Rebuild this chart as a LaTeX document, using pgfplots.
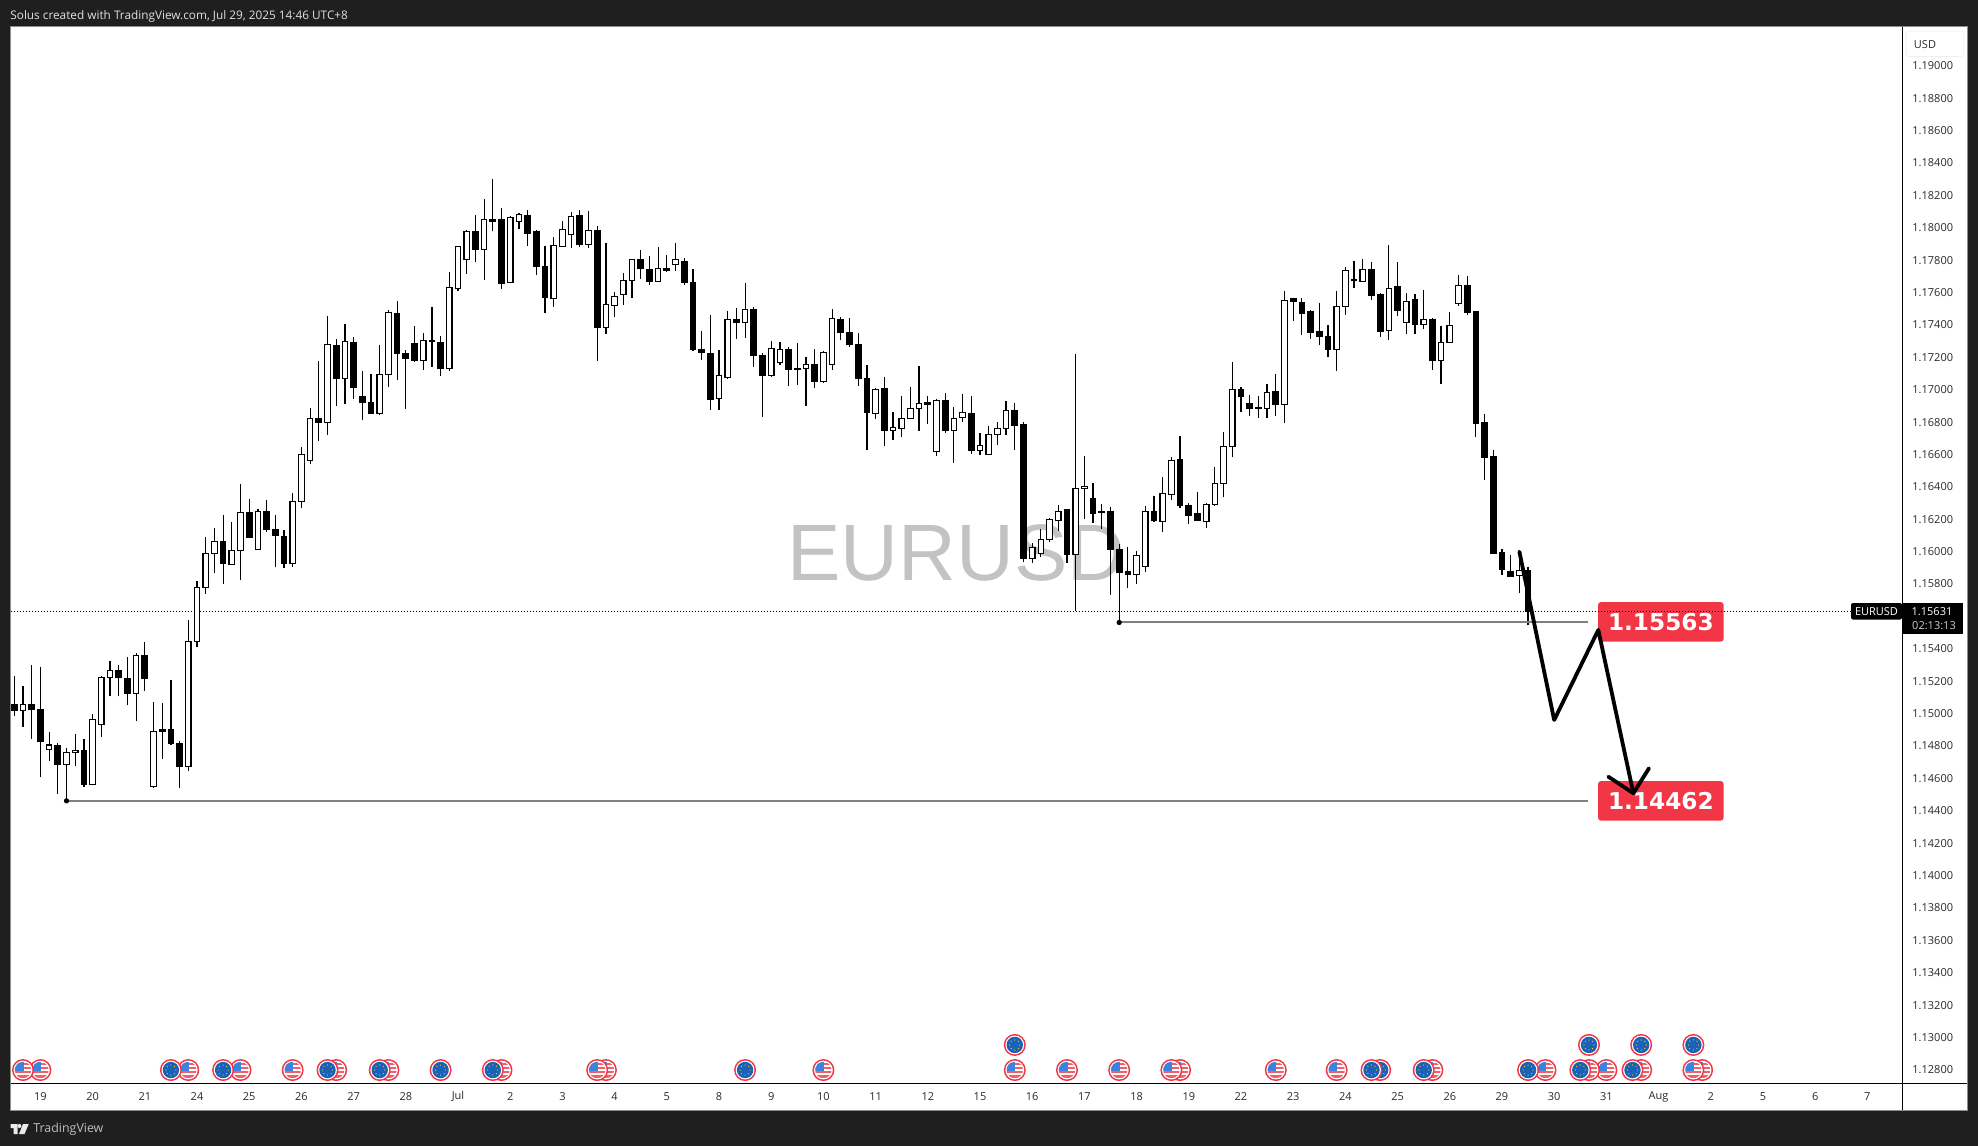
\documentclass[border=0pt]{standalone}
\usepackage{fontspec}
\setmainfont{Open Sans}
\newfontfamily\wmfont{Liberation Sans}
\newfontfamily\tagfont{DejaVu Sans}
\usepackage{pgfplots}
\usepackage{pgfplotstable}
\pgfplotsset{compat=1.18}

\definecolor{frame}{HTML}{1F1F1F}
\definecolor{edge}{HTML}{8C8C8C}
\definecolor{level}{HTML}{808080}
\definecolor{tagred}{HTML}{F23645}
\definecolor{ticktext}{HTML}{2A2A2A}
\definecolor{marker}{HTML}{C3C3C3}
\definecolor{eublue}{HTML}{1A62B8}
\definecolor{usblue}{HTML}{3C83E0}
\definecolor{usred}{HTML}{F0606A}
\definecolor{eustar}{HTML}{F2D21E}

% 4h candles: index, high, body top, body bottom, low
\pgfplotstableread{
i hi top bot lo
0 1.15233 1.15059 1.15019 1.14987
2 1.15300 1.15059 1.15027 1.14845
3 1.15289 1.15027 1.14829 1.14612
5 1.14818 1.14804 1.14687 1.14507
8 1.14845 1.14772 1.14564 1.14545
12 1.15300 1.15268 1.15222 1.15107
13 1.15351 1.15217 1.15126 1.15053
15 1.15444 1.15361 1.15217 1.15142
18 1.15209 1.14904 1.14815 1.14807
19 1.14831 1.14818 1.14673 1.14539
24 1.16226 1.16063 1.15926 1.15803
27 1.16325 1.16242 1.16087 1.16087
29 1.16320 1.16250 1.16138 1.16119
30 1.16226 1.16138 1.16100 1.15905
31 1.16132 1.16095 1.15926 1.15902
35 1.17176 1.16823 1.16796 1.16681
37 1.17313 1.17273 1.17069 1.16901
39 1.17324 1.17291 1.17013 1.16943
40 1.17115 1.16959 1.16922 1.16810
41 1.17096 1.16922 1.16852 1.16852
44 1.17546 1.17471 1.17224 1.17061
45 1.17243 1.17224 1.17192 1.16882
46 1.17393 1.17286 1.17179 1.17168
48 1.17511 1.17305 1.17297 1.17141
49 1.17329 1.17291 1.17131 1.17085
53 1.18078 1.17977 1.17864 1.17789
55 1.18298 1.18052 1.18038 1.17977
56 1.18120 1.18048 1.17655 1.17624
59 1.18108 1.18077 1.17964 1.17889
60 1.17986 1.17974 1.17760 1.17708
61 1.17887 1.17762 1.17568 1.17476
65 1.18108 1.18077 1.17896 1.17883
67 1.18009 1.17984 1.17383 1.17180
72 1.17863 1.17805 1.17747 1.17684
73 1.17826 1.17743 1.17667 1.17649
75 1.17832 1.17750 1.17735 1.17729
77 1.17811 1.17793 1.17661 1.17649
78 1.17743 1.17663 1.17247 1.17241
79 1.17363 1.17249 1.17229 1.17186
80 1.17461 1.17225 1.16939 1.16877
83 1.17505 1.17435 1.17414 1.17315
85 1.17509 1.17496 1.17210 1.17142
86 1.17225 1.17212 1.17087 1.16834
89 1.17262 1.17249 1.17124 1.17025
90 1.17289 1.17132 1.17124 1.17031
92 1.17252 1.17157 1.17050 1.17013
95 1.17447 1.17435 1.17352 1.17309
96 1.17443 1.17354 1.17278 1.17266
97 1.17350 1.17280 1.17068 1.17025
98 1.17153 1.17070 1.16859 1.16630
100 1.17079 1.17009 1.16747 1.16655
105 1.16959 1.16922 1.16912 1.16789
107 1.16980 1.16935 1.16747 1.16735
110 1.16959 1.16854 1.16624 1.16605
115 1.16918 1.16869 1.16778 1.16628
116 1.16799 1.16783 1.15957 1.15937
121 1.16264 1.16258 1.15982 1.15931
124 1.16422 1.16330 1.16235 1.16180
125 1.16293 1.16245 1.16241 1.16141
126 1.16274 1.16245 1.16013 1.15733
127 1.16046 1.16015 1.15871 1.15563
128 1.16029 1.15875 1.15859 1.15778
131 1.16344 1.16245 1.16192 1.16184
134 1.16715 1.16566 1.16285 1.16272
135 1.16299 1.16287 1.16223 1.16173
136 1.16369 1.16237 1.16192 1.16192
141 1.17015 1.17003 1.16957 1.16863
142 1.16968 1.16912 1.16883 1.16838
143 1.16962 1.16887 1.16883 1.16826
145 1.17097 1.16990 1.16908 1.16840
147 1.17560 1.17560 1.17544 1.17425
148 1.17566 1.17536 1.17470 1.17338
149 1.17492 1.17480 1.17352 1.17313
150 1.17536 1.17357 1.17328 1.17276
151 1.17398 1.17326 1.17248 1.17202
156 1.17789 1.17743 1.17581 1.17554
157 1.17595 1.17585 1.17359 1.17326
159 1.17789 1.17634 1.17488 1.17455
161 1.17591 1.17554 1.17402 1.17344
163 1.17441 1.17435 1.17180 1.17122
167 1.17702 1.17645 1.17476 1.17462
168 1.17480 1.17480 1.16791 1.16708
169 1.16850 1.16795 1.16581 1.16445
170 1.16628 1.16585 1.15988 1.15988
171 1.16015 1.15992 1.15889 1.15857
172 1.15980 1.15875 1.15846 1.15846
174 1.15906 1.15885 1.15632 1.15550
}\downcandles

\pgfplotstableread{
i hi top bot lo
1 1.15171 1.15056 1.15021 1.14920
4 1.14887 1.14807 1.14780 1.14708
6 1.14791 1.14762 1.14687 1.14462
7 1.14874 1.14772 1.14762 1.14679
9 1.14995 1.14965 1.14564 1.14558
10 1.15235 1.15225 1.14933 1.14855
11 1.15326 1.15268 1.15225 1.15112
14 1.15372 1.15361 1.15126 1.14957
16 1.15072 1.14890 1.14550 1.14539
17 1.15067 1.14904 1.14893 1.14721
20 1.15578 1.15447 1.14676 1.14649
21 1.15819 1.15779 1.15447 1.15409
22 1.16092 1.15990 1.15779 1.15741
23 1.16146 1.16063 1.15990 1.15870
25 1.16183 1.16009 1.15921 1.15921
26 1.16419 1.16242 1.16009 1.15827
28 1.16266 1.16250 1.16014 1.16014
32 1.16360 1.16312 1.15926 1.15907
33 1.16649 1.16601 1.16312 1.16269
34 1.16890 1.16823 1.16563 1.16539
36 1.17455 1.17281 1.16799 1.16721
38 1.17404 1.17299 1.17069 1.16909
42 1.17275 1.17093 1.16852 1.16842
43 1.17495 1.17476 1.17093 1.17018
47 1.17350 1.17305 1.17182 1.17123
50 1.17728 1.17631 1.17131 1.17117
51 1.17886 1.17886 1.17623 1.17610
52 1.17985 1.17977 1.17803 1.17714
54 1.18177 1.18052 1.17864 1.17680
57 1.18071 1.18064 1.17663 1.17663
58 1.18089 1.18083 1.18040 1.17994
62 1.17941 1.17889 1.17564 1.17513
63 1.18042 1.17990 1.17885 1.17885
64 1.18097 1.18071 1.17959 1.17877
66 1.18103 1.17984 1.17896 1.17877
68 1.17906 1.17527 1.17385 1.17346
69 1.17603 1.17577 1.17521 1.17451
70 1.17721 1.17675 1.17589 1.17525
71 1.17805 1.17805 1.17675 1.17568
74 1.17881 1.17750 1.17669 1.17669
76 1.17906 1.17805 1.17774 1.17735
81 1.17245 1.17089 1.16947 1.16877
82 1.17486 1.17435 1.17075 1.17068
84 1.17659 1.17496 1.17416 1.17322
87 1.17301 1.17256 1.17087 1.17081
88 1.17295 1.17249 1.17169 1.17155
91 1.17202 1.17157 1.17132 1.16902
93 1.17237 1.17231 1.17052 1.17044
94 1.17498 1.17441 1.17157 1.17124
99 1.17009 1.17003 1.16854 1.16821
101 1.16863 1.16768 1.16749 1.16692
102 1.16959 1.16824 1.16762 1.16710
103 1.17017 1.16885 1.16824 1.16824
104 1.17147 1.16914 1.16885 1.16747
106 1.16941 1.16935 1.16620 1.16593
108 1.16891 1.16824 1.16749 1.16550
109 1.16974 1.16859 1.16830 1.16803
111 1.16731 1.16657 1.16624 1.16597
112 1.16778 1.16725 1.16601 1.16601
113 1.16801 1.16762 1.16725 1.16659
114 1.16931 1.16873 1.16762 1.16721
117 1.16052 1.16027 1.15959 1.15931
118 1.16138 1.16077 1.15990 1.15968
119 1.16206 1.16200 1.16077 1.16062
120 1.16289 1.16248 1.16194 1.16126
122 1.17219 1.16392 1.15984 1.15632
123 1.16591 1.16404 1.16392 1.16202
129 1.16003 1.15978 1.15861 1.15803
130 1.16282 1.16250 1.15908 1.15877
132 1.16462 1.16361 1.16186 1.16124
133 1.16583 1.16564 1.16355 1.16322
137 1.16303 1.16293 1.16186 1.16147
138 1.16523 1.16422 1.16291 1.16282
139 1.16739 1.16651 1.16422 1.16338
140 1.17171 1.17003 1.16649 1.16585
144 1.17036 1.16984 1.16885 1.16826
146 1.17610 1.17552 1.16910 1.16797
152 1.17610 1.17515 1.17250 1.17116
153 1.17756 1.17737 1.17515 1.17462
154 1.17795 1.17678 1.17673 1.17628
155 1.17807 1.17743 1.17669 1.17669
158 1.17894 1.17626 1.17367 1.17307
160 1.17595 1.17546 1.17416 1.17344
162 1.17616 1.17435 1.17402 1.17375
164 1.17394 1.17293 1.17182 1.17036
165 1.17480 1.17398 1.17293 1.17293
166 1.17708 1.17645 1.17534 1.17517
173 1.15980 1.15885 1.15854 1.15748
}\upcandles

% event flags along the bottom, right to left so the left one sits on top
\pgfplotstableread{
i y
194 1.12800
193 1.12800
187 1.12800
183 1.12800
181 1.12800
176 1.12800
163 1.12800
152 1.12800
145 1.12800
134 1.12800
133 1.12800
127 1.12800
121 1.12800
115 1.12800
93 1.12800
68 1.12800
67 1.12800
56 1.12800
43 1.12800
37 1.12800
32 1.12800
26 1.12800
20 1.12800
3 1.12800
1 1.12800
}\usevents
\pgfplotstableread{
i y
193 1.12955
187 1.12955
186 1.12800
181 1.12955
180 1.12800
174 1.12800
162 1.12800
157 1.12800
156 1.12800
115 1.12955
84 1.12800
55 1.12800
49 1.12800
42 1.12800
36 1.12800
24 1.12800
18 1.12800
}\euevents

\newcommand\flagdisc[2]{\pgfsetfillcolor{#1}\pgfpathcircle{\pgfpointorigin}{#2}\pgfusepath{fill}}
\newcommand\flagbar[5]{\pgfsetfillcolor{#1}\pgfpathrectanglecorners{\pgfpoint{#2}{#3}}{\pgfpoint{#4}{#5}}\pgfusepath{fill}}
\newcommand\flagdot[2]{\pgfpathcircle{\pgfpoint{#1}{#2}}{.32pt}\pgfusepath{fill}}
\pgfdeclareplotmark{euflag}{
  \flagdisc{tagred}{5.5pt}\flagdisc{white}{4.7pt}\flagdisc{eublue}{4.1pt}
  \pgfsetfillcolor{eustar}
  \flagdot{2.5pt}{0pt}\flagdot{-2.5pt}{0pt}\flagdot{0pt}{2.5pt}\flagdot{0pt}{-2.5pt}
  \flagdot{1.8pt}{1.8pt}\flagdot{-1.8pt}{1.8pt}\flagdot{1.8pt}{-1.8pt}\flagdot{-1.8pt}{-1.8pt}
}
\pgfdeclareplotmark{usflag}{
  \flagdisc{tagred}{5.5pt}\flagdisc{white}{4.7pt}
  \begin{pgfscope}
    \pgfpathcircle{\pgfpointorigin}{4.1pt}\pgfusepath{clip}
    \flagbar{usred}{-5pt}{2.6pt}{5pt}{3.6pt}
    \flagbar{usred}{-5pt}{.6pt}{5pt}{1.6pt}
    \flagbar{usred}{-5pt}{-1.4pt}{5pt}{-.4pt}
    \flagbar{usred}{-5pt}{-4.1pt}{5pt}{-2.6pt}
    \flagbar{usblue}{-5pt}{-.4pt}{.3pt}{5pt}
  \end{pgfscope}
}

% a wick and a body for every row of the table
\newcommand\drawcandles[2]{%
  \pgfplotstablegetrowsof{#1}%
  \pgfmathtruncatemacro\lastrow{\pgfplotsretval-1}%
  \pgfplotsinvokeforeach{0,...,\lastrow}{%
    \pgfplotstablegetelem{##1}{i}\of{#1}\let\ci\pgfplotsretval
    \pgfplotstablegetelem{##1}{hi}\of{#1}\let\chi\pgfplotsretval
    \pgfplotstablegetelem{##1}{top}\of{#1}\let\ctop\pgfplotsretval
    \pgfplotstablegetelem{##1}{bot}\of{#1}\let\cbot\pgfplotsretval
    \pgfplotstablegetelem{##1}{lo}\of{#1}\let\clo\pgfplotsretval
    \pgfmathsetmacro\cl{\ci-.32}%
    \pgfmathsetmacro\cr{\ci+.32}%
    \edef\temp{\noexpand\addplot[black, line width=.6pt] coordinates {(\ci,\clo) (\ci,\chi)};
      \noexpand\addplot[draw=black, fill=#2, line width=.6pt] coordinates {(\cl,\ctop) (\cr,\ctop) (\cr,\cbot) (\cl,\cbot)} --cycle;}%
    \temp
  }%
}

\newcommand\ticklab{\fontsize{5.5pt}{6pt}\selectfont}

\begin{document}
\begin{tikzpicture}[x=.5pt,y=-.5pt]
% window
\fill[frame] (0,0) rectangle (1978,1146);
\fill[white,draw=edge,line width=.5pt] (10.5,26.5) rectangle (1967.5,1110);
% watermark
\node[anchor=base west,inner sep=0,text=marker,font=\wmfont\fontsize{40pt}{41pt}\selectfont] at (787,580) {EURUSD};

\begin{axis}[
  at={(5.5pt,-541.5pt)},
  anchor=south west,
  scale only axis,
  width=945.5pt,
  height=528pt,
  xmin=-0.38, xmax=216.98,
  ymin=1.12720, ymax=1.19239,
  axis line style={draw=none},
  major tick length=0pt,
  xtick={3,9,...,213},
  xticklabels={19,20,21,24,25,26,27,28,Jul,2,3,4,5,8,9,10,11,12,15,16,17,18,19,22,23,24,25,26,29,30,31,Aug,2,5,6,7},
  ytick={1.128,1.13,1.132,1.134,1.136,1.138,1.14,1.142,1.144,1.146,1.148,1.15,1.152,1.154,1.158,1.16,1.162,1.164,1.166,1.168,1.17,1.172,1.174,1.176,1.178,1.18,1.182,1.184,1.186,1.188,1.19},
  yticklabel pos=right,
  xtick pos=bottom,
  scaled y ticks=false,
  yticklabel style={
    /pgf/number format/.cd, fixed, fixed zerofill, precision=5, assume math mode=true,
    /tikz/.cd, anchor=west, inner sep=0pt, xshift=5pt, text=ticktext, font=\ticklab},
  xticklabel style={anchor=center, inner sep=0pt, yshift=-6.9pt, text=ticktext, font=\ticklab},
]
% target tags
\node[fill=tagred,text=white,rounded corners=1.5pt,inner sep=0pt,minimum width=62.8pt,minimum height=19.8pt,
  font=\tagfont\bfseries\fontsize{11.6pt}{12pt}\selectfont] at (axis cs:189.26,1.15567) {1.15563};
\node[fill=tagred,text=white,rounded corners=1.5pt,inner sep=0pt,minimum width=62.8pt,minimum height=19.8pt,
  font=\tagfont\bfseries\fontsize{11.6pt}{12pt}\selectfont] at (axis cs:189.26,1.14462) {1.14462};

% last price
\addplot[black,line width=.5pt,dash pattern=on .5pt off 1pt] coordinates {(-0.38,1.15631) (216.98,1.15631)};

\drawcandles{\downcandles}{black}
\drawcandles{\upcandles}{white}

% horizontal levels
\addplot[level,line width=1pt] coordinates {(6,1.14462) (180.85,1.14462)};
\addplot[level,line width=1pt] coordinates {(127,1.15563) (180.85,1.15563)};
\addplot[only marks,mark=*,mark size=1.1pt,black] coordinates {(6,1.14462) (127,1.15563)};

\addplot[only marks,mark=usflag] table[x=i,y=y] {\usevents};
\addplot[only marks,mark=euflag] table[x=i,y=y] {\euevents};

% projected path
\addplot[black,line width=1.9pt,line join=round,line cap=round] coordinates {
  (173.0,1.16000) (177.0,1.14961) (182.07,1.15517) (186.1,1.14509)};
\addplot[black,line width=1.9pt,line join=round,line cap=round] coordinates {
  (183.22,1.14611) (186.1,1.14509) (187.9,1.14663)};
\end{axis}

% scale frame lines
\draw[black,line width=.5pt] (1902,27) -- (1902,1110);
\draw[black,line width=.5pt] (11,1083) -- (1967,1083);

% currency box, it cuts the top off the first scale label
\fill[white] (1904,28) rectangle (1966,60.5);
\fill[white,draw=black!6,line width=.4pt,rounded corners=1.5pt] (1906,31) rectangle (1964,56.5);
\node[anchor=center,inner sep=0,text=ticktext,font=\ticklab] at (1925,44.5) {USD};

% last price tag
\fill[black,rounded corners=1pt] (1851,603) rectangle (1902,619.5);
\fill[black] (1902,603) rectangle (1963,634);
\node[anchor=center,inner sep=0,text=white,font=\ticklab] at (1876.5,611.5) {EURUSD};
\node[anchor=center,inner sep=0,text=white,font=\ticklab] at (1932,611.5) {1.15631};
\node[anchor=center,inner sep=0,text=black!20,font=\ticklab] at (1934,626) {02:13:13};

% header and footer
\node[anchor=west,inner sep=0,text=black!12,font=\fontsize{5.9pt}{6.5pt}\selectfont] at (10,16) {Solus created with TradingView.com, Jul 29, 2025 14:46 UTC+8};
\fill[black!8] (10.5,1124) -- (17.5,1124) -- (17.5,1134) -- (13.5,1134) -- (13.5,1128) -- (10.5,1128) -- cycle;
\fill[black!8] (19.5,1126) circle (2);
\fill[black!8] (23,1124) -- (28.7,1124) -- (24.5,1134) -- (19,1134) -- cycle;
\node[anchor=west,inner sep=0,text=black!25,font=\fontsize{6.2pt}{7pt}\selectfont] at (33,1129) {TradingView};
\end{tikzpicture}
\end{document}
